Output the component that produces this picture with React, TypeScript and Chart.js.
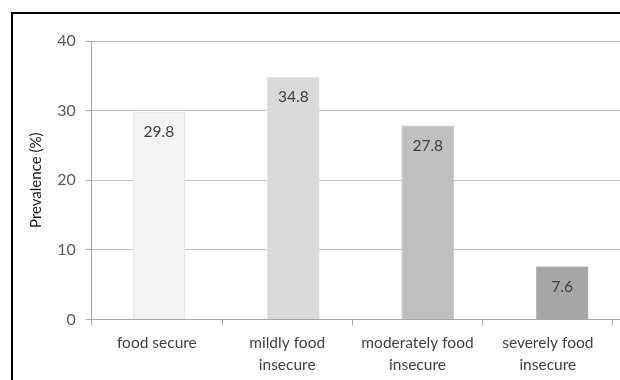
import React, { useEffect, useRef } from "react";
import { Chart, registerables } from "chart.js";

Chart.register(...registerables);

const categories: string[][] = [
  ["food secure"],
  ["mildly food", "insecure"],
  ["moderately food", "insecure"],
  ["severely food", "insecure"],
];
const prevalence: number[] = [29.8, 34.8, 27.8, 7.6];
const barColors: string[] = ["#f2f2f2", "#d9d9d9", "#bfbfbf", "#a6a6a6"];
const barEdgeColors: string[] = ["#e4e4e4", "#e3e3e3", "#cdcdcd", "#bcbcbc"];
const yTicks: number[] = [0, 10, 20, 30, 40];
const yTitle = "Prevalence (%)";

const FONT = "Lato, 'Open Sans', sans-serif";

const valueLabels = {
  id: "valueLabels",
  afterDatasetsDraw(chart: any) {
    const { ctx } = chart;
    const meta = chart.getDatasetMeta(0);
    ctx.save();
    ctx.font = `15.5px ${FONT}`;
    ctx.fillStyle = "#404040";
    ctx.textAlign = "center";
    ctx.textBaseline = "middle";
    meta.data.forEach((bar: any, i: number) => {
      ctx.fillText(prevalence[i].toFixed(1), bar.x, bar.y + 20);
    });
    ctx.restore();
  },
};

export default function App() {
  const ref = useRef<HTMLCanvasElement | null>(null);

  useEffect(() => {
    if (!ref.current) return;
    const chart = new Chart(ref.current, {
      type: "bar",
      data: {
        datasets: [
          {
            data: prevalence.map((v, i) => ({ x: i, y: v })),
            backgroundColor: barColors,
            borderColor: barEdgeColors,
            borderWidth: 1,
            barThickness: 52,
            xAxisID: "xb",
            yAxisID: "y",
          } as any,
        ],
      },
      options: {
        animation: false,
        responsive: false,
        layout: { padding: { top: 41, right: 0, left: 0, bottom: 0 } },
        plugins: {
          legend: { display: false },
          tooltip: { enabled: false },
        },
        scales: {
          xb: {
            type: "linear",
            display: false,
            offset: false,
            min: -0.5,
            max: 3.43,
            grid: { offset: false },
          },
          x: {
            type: "linear",
            position: "bottom",
            offset: false,
            min: 0,
            max: 4.054,
            afterBuildTicks: (scale: any) => {
              scale.ticks = categories.map((_, i) => ({ value: i + 0.5 }));
            },
            afterFit: (scale: any) => {
              scale.height = 60.5;
            },
            grid: {
              offset: true,
              drawOnChartArea: false,
              drawTicks: true,
              tickLength: 6,
              tickColor: (ctx: any) => (ctx.index >= categories.length ? "rgba(0,0,0,0)" : "#a6a6a6"),
            },
            border: { display: true, color: "#a6a6a6", width: 1 },
            ticks: {
              autoSkip: false,
              maxRotation: 0,
              padding: 6,
              color: "#404040",
              font: { family: FONT, size: 15.5, lineHeight: 1.42 },
              callback: (value: any) => {
                const idx = Math.round(Number(value) - 0.5);
                return categories[idx] ?? "";
              },
            },
          },
          y: {
            type: "linear",
            min: 0,
            max: 40,
            afterBuildTicks: (scale: any) => {
              scale.ticks = yTicks.map((v) => ({ value: v }));
            },
            afterFit: (scale: any) => {
              scale.width = 91.7;
            },
            grid: {
              color: "#c4c4c4",
              tickColor: "#a6a6a6",
              tickLength: 6,
              drawTicks: true,
            },
            border: { display: true, color: "#a6a6a6", width: 1 },
            ticks: {
              padding: 10,
              color: "#595959",
              font: { family: FONT, size: 16 },
            },
            title: {
              display: true,
              text: yTitle,
              color: "#1a1a1a",
              font: { family: FONT, size: 15 },
              padding: { top: 27, bottom: 0 },
            },
          },
        },
      },
      plugins: [valueLabels],
    });
    return () => chart.destroy();
  }, []);

  return (
    <div
      style={{
        position: "fixed",
        left: 0,
        top: 0,
        width: 620,
        height: 380,
        overflow: "hidden",
        background: "#ffffff",
      }}
    >
      <div
        style={{
          position: "absolute",
          left: 11,
          top: 12,
          width: 800,
          height: 600,
          border: "2px solid #000",
          boxSizing: "border-box",
        }}
      />
      <canvas
        ref={ref}
        width={620}
        height={380}
        style={{ position: "absolute", left: 0, top: 0, width: 620, height: 380 }}
      />
    </div>
  );
}
